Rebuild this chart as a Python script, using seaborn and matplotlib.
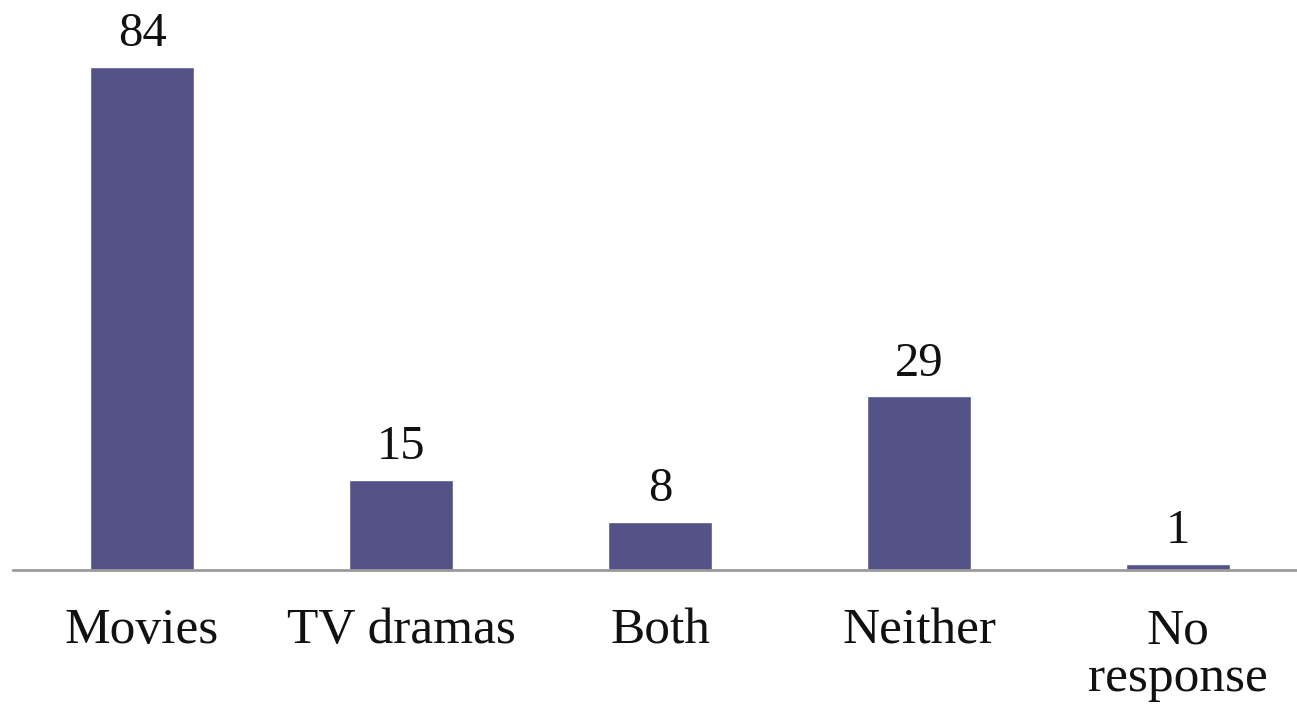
import matplotlib
matplotlib.use("Agg")
import matplotlib.pyplot as plt
import pandas as pd
import seaborn as sns

CATEGORIES = ["Movies", "TV dramas", "Both", "Neither", "No\nresponse"]
COUNTS = [84, 15, 8, 29, 1]
BAR_COLOR = "#545387"


def main():
    sns.set_style("white")
    plt.rcParams["font.family"] = ["Liberation Serif", "DejaVu Serif"]

    df = pd.DataFrame({"category": CATEGORIES, "count": COUNTS})

    fig = plt.figure(figsize=(12.97, 7.08), dpi=100)
    ax = fig.add_axes([12.5 / 1297, 138 / 708, 1295 / 1297, 570 / 708])
    sns.barplot(data=df, x="category", y="count", color=BAR_COLOR, width=0.4,
                saturation=1, ax=ax)

    ax.set_xlim(-0.5, len(CATEGORIES) - 0.5)
    ax.set_ylim(0, 84 * 570 / 503)
    for patch, value in zip(ax.patches, COUNTS):
        ax.annotate(f"{value}", (patch.get_x() + patch.get_width() / 2, value),
                    xytext=(0, 15), textcoords="offset points",
                    ha="center", va="baseline", fontsize=35, color="#111111")

    for side in ["top", "right", "left"]:
        ax.spines[side].set_visible(False)
    ax.spines["bottom"].set_color("#9a9a9a")
    ax.spines["bottom"].set_linewidth(2)
    ax.set_yticks([])
    ax.set_xlabel("")
    ax.set_ylabel("")
    ax.tick_params(axis="x", length=0, pad=27, labelsize=37, labelcolor="#111111")
    for label in ax.get_xticklabels():
        label.set_verticalalignment("top")
        label.set_linespacing(1.05)

    fig.savefig("out.png", dpi=100)
    plt.close(fig)


if __name__ == "__main__":
    main()
